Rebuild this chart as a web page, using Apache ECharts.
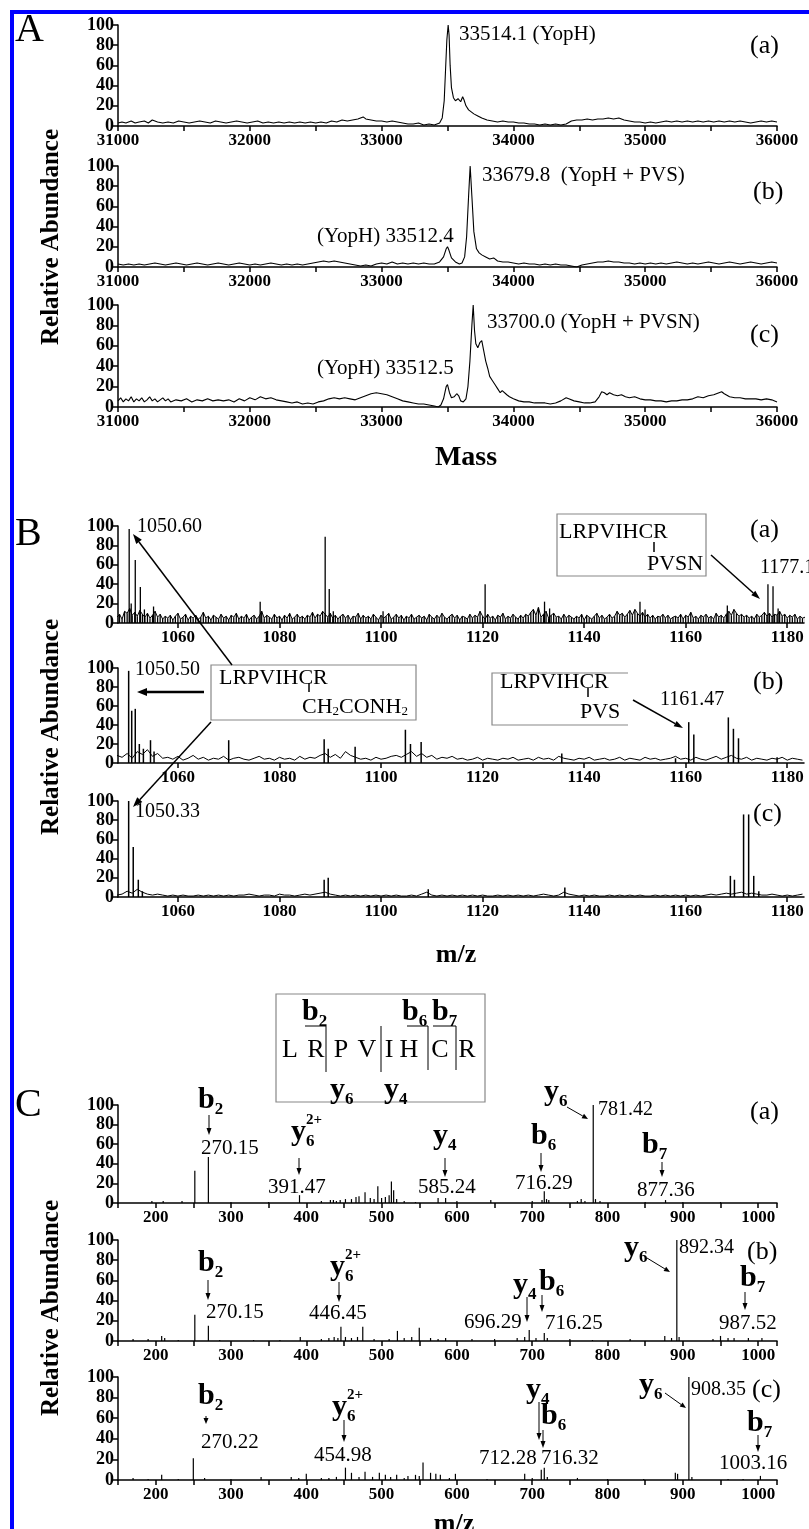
<!DOCTYPE html>
<html><head><meta charset="utf-8">
<script src="https://cdn.jsdelivr.net/npm/echarts@6/dist/echarts.min.js"></script>
<style>html,body{margin:0;padding:0;background:#fff}#c{width:809px;height:1529px}</style>
</head><body><div id="c"></div>
<script>
// ---------------- DATA ----------------
// Panel A: deconvoluted mass spectra [mass, relative abundance]
const specAa = [[31000,3],[31030,4],[31060,3],[31100,5],[31130,3],[31160,4],[31200,5],[31230,3],[31260,6],[31300,4],[31340,3],[31380,4],[31420,3],[31460,5],[31500,4],[31540,3],[31580,4],[31620,5],[31660,4],[31700,3],[31740,5],[31780,4],[31820,3],[31860,4],[31900,5],[31940,4],[31980,3],[32020,4],[32060,5],[32100,3],[32140,4],[32180,3],[32220,4],[32260,3],[32300,4],[32340,3],[32380,4],[32420,3],[32460,4],[32500,3],[32540,4],[32580,3],[32620,5],[32660,4],[32700,6],[32740,5],[32780,6],[32820,7],[32860,9],[32880,7],[32920,6],[32960,5],[33000,5],[33040,4],[33080,5],[33120,4],[33160,3],[33200,2],[33240,2],[33280,3],[33320,1],[33360,2],[33400,1],[33440,3],[33460,8],[33475,25],[33485,55],[33495,85],[33505,100],[33512,90],[33520,60],[33530,38],[33545,28],[33560,25],[33580,27],[33600,24],[33615,29],[33625,26],[33640,20],[33660,16],[33680,14],[33700,12],[33730,10],[33760,8],[33800,6],[33840,5],[33880,4],[33920,5],[33960,4],[34000,4],[34040,3],[34080,3],[34120,2],[34160,2],[34200,1],[34240,2],[34280,1],[34320,2],[34360,1],[34400,2],[34440,5],[34480,6],[34520,6],[34560,7],[34600,6],[34640,7],[34680,7],[34720,8],[34760,7],[34800,8],[34840,6],[34880,5],[34920,4],[34960,4],[35000,3],[35040,4],[35080,3],[35120,4],[35160,5],[35200,4],[35240,5],[35280,4],[35320,5],[35360,4],[35400,5],[35440,4],[35480,5],[35520,4],[35560,5],[35600,4],[35640,5],[35680,4],[35720,5],[35760,4],[35800,3],[35840,4],[35880,5],[35920,4],[35960,5],[36000,4]];
const specAb = [[31000,3],[31040,2],[31080,3],[31120,2],[31160,3],[31200,2],[31240,3],[31280,4],[31320,3],[31360,2],[31400,3],[31440,4],[31480,3],[31520,2],[31560,3],[31600,4],[31640,3],[31680,2],[31720,3],[31760,4],[31800,3],[31840,2],[31880,3],[31920,4],[31960,3],[32000,2],[32040,3],[32080,2],[32120,3],[32160,4],[32200,3],[32240,2],[32280,3],[32320,2],[32360,3],[32400,2],[32440,3],[32480,4],[32520,5],[32560,6],[32600,5],[32640,6],[32680,5],[32720,4],[32760,3],[32800,2],[32840,1],[32880,2],[32920,1],[32960,3],[33000,4],[33040,3],[33080,5],[33120,3],[33160,4],[33200,3],[33240,4],[33280,3],[33320,4],[33360,3],[33400,3],[33440,5],[33470,10],[33490,18],[33500,20],[33510,17],[33530,9],[33560,5],[33590,3],[33610,4],[33630,10],[33645,30],[33660,70],[33672,100],[33685,70],[33700,35],[33720,18],[33740,14],[33760,12],[33790,10],[33820,8],[33850,9],[33880,6],[33920,5],[33960,5],[34000,4],[34040,3],[34080,4],[34120,3],[34160,3],[34200,2],[34240,3],[34280,2],[34320,3],[34360,2],[34400,2],[34440,1],[34480,0],[34500,1],[34520,2],[34560,3],[34600,4],[34640,5],[34680,5],[34720,6],[34760,5],[34800,5],[34840,4],[34880,4],[34920,3],[34960,4],[35000,3],[35040,4],[35080,3],[35120,4],[35160,3],[35200,4],[35240,5],[35280,4],[35320,3],[35360,4],[35400,3],[35440,4],[35480,5],[35520,4],[35560,3],[35600,4],[35640,5],[35680,4],[35720,3],[35760,4],[35800,5],[35840,4],[35880,3],[35920,4],[35960,5],[36000,4]];
const specAc = [[31000,6],[31020,9],[31040,5],[31060,8],[31080,6],[31100,10],[31120,5],[31140,8],[31160,6],[31180,9],[31200,5],[31220,7],[31240,10],[31260,6],[31280,8],[31300,5],[31320,7],[31340,9],[31360,6],[31380,8],[31400,5],[31440,7],[31480,6],[31520,8],[31560,5],[31600,7],[31640,6],[31680,8],[31720,6],[31760,7],[31800,6],[31840,7],[31880,5],[31920,8],[31960,6],[32000,9],[32040,7],[32080,10],[32120,8],[32160,9],[32200,7],[32240,6],[32280,5],[32320,4],[32360,5],[32400,3],[32440,4],[32480,3],[32520,5],[32560,6],[32600,8],[32640,9],[32680,8],[32720,9],[32760,8],[32800,7],[32840,9],[32880,11],[32920,13],[32960,14],[33000,13],[33040,12],[33080,10],[33120,8],[33160,6],[33200,5],[33240,4],[33280,3],[33320,3],[33360,2],[33400,1],[33430,0],[33450,2],[33470,8],[33490,20],[33500,22],[33515,14],[33530,9],[33550,10],[33570,13],[33585,11],[33600,6],[33620,5],[33640,8],[33655,20],[33670,45],[33685,80],[33695,100],[33705,75],[33715,62],[33730,58],[33745,63],[33760,65],[33775,55],[33790,45],[33805,38],[33820,30],[33840,26],[33860,22],[33880,18],[33900,14],[33915,16],[33930,15],[33950,12],[33970,10],[34000,8],[34040,6],[34080,5],[34120,5],[34160,4],[34200,4],[34240,4],[34280,3],[34320,4],[34360,6],[34400,9],[34420,8],[34460,6],[34500,5],[34540,4],[34580,4],[34620,5],[34650,10],[34670,15],[34690,14],[34710,12],[34730,14],[34760,12],[34790,11],[34820,12],[34850,10],[34880,9],[34920,10],[34960,8],[35000,7],[35040,7],[35080,6],[35120,6],[35160,5],[35200,6],[35240,6],[35280,7],[35320,7],[35360,8],[35400,10],[35440,9],[35480,11],[35520,12],[35560,14],[35580,15],[35600,13],[35640,10],[35680,9],[35720,9],[35760,8],[35800,8],[35840,8],[35880,7],[35920,8],[35960,7],[36000,5]];

// Panel B: noise floor sampled from m/z 1048, plus peak sticks [m/z, rel]
const noiseBaStart = 1048, noiseBaStep = 0.5;
const noiseBa = [6,9,4,12,10,15,8,11,7,13,9,6,10,5,8,12,6,9,4,7,
 5,8,3,7,10,4,6,9,3,7,5,8,4,6,11,5,7,3,8,6,
 4,9,5,7,3,8,6,10,4,7,5,9,3,6,8,4,7,12,5,8,
 6,4,9,5,7,3,8,5,10,4,6,9,5,7,4,8,6,11,5,9,
 7,12,9,6,10,5,8,4,7,9,5,8,3,7,6,10,4,8,5,7,
 4,9,6,3,8,5,7,10,4,6,9,5,8,3,7,5,9,4,6,8,
 5,7,3,9,6,4,8,5,10,6,4,7,9,5,8,3,7,6,4,9,
 5,8,6,12,7,4,9,5,7,3,8,6,10,4,7,5,9,6,4,8,
 5,9,7,11,14,8,16,6,9,12,5,8,10,6,7,4,9,5,8,6,
 4,7,5,9,3,8,6,4,7,10,5,8,4,6,9,5,7,12,8,10,
 6,9,13,8,14,10,7,11,6,9,5,8,4,7,6,9,5,8,4,6,
 7,5,9,4,8,6,11,5,7,4,8,6,9,5,7,4,10,6,8,5,
 9,12,8,14,10,7,9,6,8,5,7,4,9,6,8,11,7,10,6,9,
 8,12,7,9,5,8,6,9,4,7,5,6];
const peaksBa = [[1050.4,97],[1050.8,20],[1051.6,65],[1052.6,37],[1053.4,14],[1055.2,17],[1076.2,22],[1089.0,89],[1089.8,35],[1090.6,12],[1100.4,12],[1120.5,40],[1132.2,22],[1133.2,15],[1151.0,22],[1152.0,14],[1168.2,18],[1176.2,40],[1177.2,38],[1178.2,15]];
const noiseBbStart = 1048, noiseBbStep = 1;
const noiseBb = [8,6,10,5,12,9,14,7,10,5, 6,4,7,3,5,8,4,6,3,5, 4,7,3,5,6,4,3,5,7,4, 5,3,6,4,5,3,7,4,6,5, 8,10,6,9,5,12,8,6,4,5, 3,6,4,5,7,8,6,9,12,7, 10,6,8,4,6,5,7,4,5,3, 4,6,3,5,4,3,5,4,6,3, 4,5,3,6,4,5,3,7,5,4, 3,5,4,6,3,4,5,3,4,6, 3,5,4,3,6,4,5,3,4,5, 7,4,5,3,6,4,3,5,7,4, 6,8,5,4,6,3,5,4,3,5, 4,6,3,5,4,3];
const peaksBb = [[1050.3,97],[1050.9,55],[1051.6,57],[1052.4,20],[1053.2,15],[1054.6,24],[1055.3,12],[1070.0,24],[1088.8,25],[1089.6,15],[1094.9,17],[1104.8,35],[1105.8,20],[1107.9,22],[1135.6,10],[1158.0,5],[1160.6,43],[1161.6,30],[1168.4,48],[1169.4,36],[1170.4,26],[1178.0,6]];
const noiseBcStart = 1048, noiseBcStep = 1;
const noiseBc = [2,3,6,4,8,5,3,2,3,2, 1,2,1,2,1,1,2,1,2,1, 2,1,2,1,2,2,3,2,1,2, 2,1,3,2,2,1,2,3,2,3, 4,5,3,2,1,2,1,2,1,2, 1,2,1,2,1,2,1,1,2,1, 3,5,2,1,2,1,2,1,2,1, 2,1,2,1,1,2,1,2,1,2, 1,2,1,2,3,2,1,2,5,3, 2,1,2,1,2,1,1,2,1,2, 1,2,1,2,1,1,2,1,2,1, 2,1,2,1,2,1,2,3,2,3, 4,3,4,5,3,4,3,2,2,3, 2,1,2,1,2,3];
const peaksBc = [[1050.3,100],[1051.2,52],[1052.2,18],[1053.0,6],[1088.8,18],[1089.6,20],[1109.3,8],[1136.2,10],[1168.8,22],[1169.6,18],[1171.4,86],[1172.4,86],[1173.4,22],[1174.4,6]];
const bTickValues = [1060,1080,1100,1120,1140,1160,1180];

// Panel C: MS/MS stick spectra [m/z, rel]
const sticksCa = [[195,2],[210,2],[235,2],[252,33],[270,47],[300,1],[350,1],[391,8],[420,2],[432,3],[436,3],[440,2],[445,3],[452,4],[460,4],[466,6],[470,7],[478,11],[485,5],[490,4],[495,17],[500,5],[505,6],[510,8],[513,22],[516,13],[520,4],[530,2],[545,1],[575,5],[585,5],[600,2],[645,3],[700,2],[713,3],[716,12],[719,4],[722,3],[760,2],[765,4],[770,2],[781,100],[784,4],[790,2],[850,1],[877,3],[900,1],[950,1]];
const sticksCb = [[170,2],[190,2],[208,5],[212,3],[230,1],[252,26],[270,15],[285,1],[330,1],[365,1],[392,4],[420,2],[430,3],[437,4],[442,3],[446,14],[452,4],[460,3],[468,4],[475,14],[490,2],[510,2],[521,10],[530,3],[540,4],[550,13],[565,3],[575,2],[585,3],[620,2],[650,2],[680,3],[690,4],[696,11],[705,3],[716,8],[720,3],[750,2],[780,1],[830,2],[876,5],[885,3],[892,100],[895,4],[940,2],[950,5],[960,3],[968,3],[987,3],[1005,3]];
const sticksCc = [[170,2],[190,1],[208,5],[230,1],[250,21],[265,2],[300,1],[340,3],[380,3],[390,2],[400,6],[420,2],[430,2],[440,3],[452,12],[460,7],[470,3],[478,8],[488,3],[497,7],[505,5],[512,3],[520,5],[530,2],[535,4],[545,5],[550,4],[555,17],[565,7],[572,6],[578,5],[590,2],[598,6],[640,1],[690,6],[700,2],[712,10],[716,12],[720,3],[760,2],[800,1],[848,1],[890,7],[893,6],[908,100],[912,3],[960,1],[980,1],[1003,4]];

// ---------------- LAYOUT / STYLE ----------------
const SERIF = "'Liberation Serif','Times New Roman',serif";
const grids = [
  {left:118, top:25,   width:659, height:101},
  {left:118, top:166,  width:659, height:101},
  {left:118, top:305,  width:659, height:102},
  {left:118, top:526,  width:686, height:97},
  {left:118, top:668,  width:686, height:95},
  {left:118, top:801,  width:686, height:96},
  {left:118, top:1105, width:659, height:98},
  {left:118, top:1240, width:659, height:101},
  {left:118, top:1377, width:659, height:103}
];
const labX = {fontFamily:SERIF, fontWeight:'bold', fontSize:17, color:'#000'};
const labY = {fontFamily:SERIF, fontWeight:'bold', fontSize:18, color:'#000', showMinLabel:true, showMaxLabel:true, hideOverlap:false};
const axLine = {show:true, onZero:false, lineStyle:{color:'#000', width:1.5}};
const axTick = {show:true, inside:false, length:5, lineStyle:{color:'#000', width:1.5}};

function xAxisFor(i){
  const base = {type:'value', gridIndex:i, axisLine:axLine, splitLine:{show:false}};
  if (i<3) return Object.assign(base, {min:31000, max:36000, interval:500, axisTick:axTick,
     axisLabel:Object.assign({margin:6, formatter:v=> v%1000===0? String(v):''}, labX)});
  if (i<6) return Object.assign(base, {min:1048.2, max:1183.3,
     axisTick:Object.assign({customValues:bTickValues}, axTick),
     axisLabel:Object.assign({margin:6, customValues:bTickValues, formatter:v=>String(v)}, labX)});
  return Object.assign(base, {min:150, max:1025, interval:50, axisTick:axTick,
     axisLabel:Object.assign({margin:6, formatter:v=> (v%100===0 && v>=200 && v<=1000)? String(v):''}, labX)});
}
function yAxisFor(i){
  return {type:'value', gridIndex:i, min:0, max:100, interval:20, axisLine:axLine, axisTick:axTick,
    splitLine:{show:false}, axisLabel:Object.assign({margin:4}, labY)};
}
function sampled(arr, start, step){ return arr.map((v,k)=>[start+k*step, v]); }

const series = [];
[specAa, specAb, specAc].forEach((d,i)=>series.push({type:'line', xAxisIndex:i, yAxisIndex:i, data:d,
  showSymbol:false, symbol:'none', lineStyle:{color:'#000', width:1.1}, silent:true}));
// B(a): dense noisy sticks
series.push({type:'line', xAxisIndex:3, yAxisIndex:3, data:sampled(noiseBa,noiseBaStart,noiseBaStep), showSymbol:false, symbol:'none',
  lineStyle:{color:'#000', width:1}, silent:true});
series.push({type:'bar', xAxisIndex:3, yAxisIndex:3, data:sampled(noiseBa,noiseBaStart,noiseBaStep).concat(peaksBa), barWidth:1.3,
  itemStyle:{color:'#000'}, silent:true});
[[noiseBb,noiseBbStart,noiseBbStep,peaksBb],[noiseBc,noiseBcStart,noiseBcStep,peaksBc]].forEach((s,k)=>{
  const i=4+k;
  series.push({type:'line', xAxisIndex:i, yAxisIndex:i, data:sampled(s[0],s[1],s[2]), showSymbol:false, symbol:'none',
    lineStyle:{color:'#000', width:1}, silent:true});
  series.push({type:'bar', xAxisIndex:i, yAxisIndex:i, data:s[3], barWidth:1.5, itemStyle:{color:'#000'}, silent:true});
});
[sticksCa, sticksCb, sticksCc].forEach((d,k)=>series.push({type:'bar', xAxisIndex:6+k, yAxisIndex:6+k, data:d,
  barWidth:1.2, itemStyle:{color:'#000'}, silent:true}));

// ---------------- ANNOTATIONS ----------------
const mctx = document.createElement('canvas').getContext('2d');
function tw(text,size,weight){ mctx.font=(weight||'normal')+' '+size+'px '+SERIF; return mctx.measureText(text).width; }
function T(text,x,y,size,o){ o=o||{};
  return {type:'text', x:x, y:y, z:50, rotation:o.rot||0,
    style:{text:text, fontSize:size, fontFamily:SERIF, fontWeight:o.weight||'normal', fill:'#000',
      textAlign:o.align||'left', align:o.align||'left', textVerticalAlign:'middle', verticalAlign:'middle'}};
}
function pieces(x,y,parts){ const out=[]; let cx=x;
  parts.forEach(p=>{ out.push(T(p[0],cx,y+(p[3]||0),p[1],{weight:p[2]})); cx+=tw(p[0],p[1],p[2]); }); return out; }
function ion(x,y,base,sub,sup){
  const out=[T(base,x,y,30,{weight:'bold'})]; const w=tw(base,30,'bold');
  if(sub) out.push(T(sub,x+w,y+10,17,{weight:'bold'}));
  if(sup) out.push(T(sup,x+w,y-12,15,{weight:'bold'}));
  return out;
}
function arrow(x1,y1,x2,y2,lw,hl,hw){
  const dx=x2-x1, dy=y2-y1, L=Math.hypot(dx,dy), ux=dx/L, uy=dy/L;
  const bx=x2-ux*hl, by=y2-uy*hl, nx=-uy, ny=ux;
  return [{type:'line', z:50, shape:{x1:x1,y1:y1,x2:bx,y2:by}, style:{stroke:'#000', lineWidth:lw}},
          {type:'polygon', z:50, shape:{points:[[x2,y2],[bx+nx*hw/2,by+ny*hw/2],[bx-nx*hw/2,by-ny*hw/2]]}, style:{fill:'#000'}}];
}
function L(pts,lw,col){ return {type:'polyline', z:50, shape:{points:pts}, style:{stroke:col||'#000', lineWidth:lw||1, fill:null}}; }
function R(x,y,w,h){ return {type:'rect', z:49, shape:{x:x,y:y,width:w,height:h}, style:{fill:'#fff', stroke:'#888', lineWidth:1.2}}; }

const AN = 21;   // annotation font size
const PL = 26;   // (a)/(b)/(c) font size
const G = [];
// frame
G.push({type:'rect', z:60, shape:{x:12,y:12,width:900,height:1700}, style:{fill:null, stroke:'#0000ff', lineWidth:4}});
// Panel A
G.push(T('A',15,30,40));
G.push(T('33514.1 (YopH)',459,34,AN));
G.push(T('(a)',750,46,PL));
G.push(T('33679.8  (YopH + PVS)',482,175,AN));
G.push(T('(b)',753,192,PL));
G.push(T('(YopH) 33512.4',317,236,AN));
G.push(T('33700.0 (YopH + PVSN)',487,322,AN));
G.push(T('(c)',750,335,PL));
G.push(T('(YopH) 33512.5',317,368,AN));
G.push(T('Mass',466,458,28,{weight:'bold',align:'center'}));
G.push(T('Relative Abundance',52,237,25,{weight:'bold',align:'center',rot:Math.PI/2}));
// Panel B
G.push(T('B',15,534,40));
G.push(T('1050.60',137,527,20));
G.push(R(557,514,149,62));
G.push(T('LRPVIHCR',559,532,22));
G.push(L([[654,542],[654,552]],1.5));
G.push(T('PVSN',647,564,22));
G.push(...arrow(711,555,760,599,1.5,9,6));
G.push(T('1177.16',760,568,20));
G.push(T('(a)',750,530,PL));
G.push(...arrow(232,665,133,534,1.5,10,7));
G.push(R(211,665,205,55));
G.push(T('LRPVIHCR',219,678,22));
G.push(L([[309,683],[309,692]],1.5));
G.push(...pieces(302,707,[['CH',22,'normal'],['2',13,'normal',5],['CONH',22,'normal'],['2',13,'normal',5]]));
G.push(...arrow(204,692,137,692,2.5,10,8));
G.push(T('1050.50',135,670,20));
G.push(...arrow(211,722,133,807,1.5,10,7));
G.push({type:'rect', z:49, shape:{x:492,y:673,width:136,height:52}, style:{fill:'#fff', stroke:null}});
G.push(L([[628,673],[492,673],[492,725],[628,725]],1.2,'#888'));
G.push(T('LRPVIHCR',500,682,22));
G.push(L([[588,688],[588,697]],1.5));
G.push(T('PVS',580,712,22));
G.push(...arrow(633,700,683,728,1.5,9,6));
G.push(T('1161.47',660,700,20));
G.push(T('(b)',753,682,PL));
G.push(T('1050.33',135,812,20));
G.push(T('(c)',753,814,PL));
G.push(T('m/z',456,955,26,{weight:'bold',align:'center'}));
G.push(T('Relative Abundance',52,727,25,{weight:'bold',align:'center',rot:Math.PI/2}));
// Panel C: peptide box
G.push(R(276,994,209,108));
G.push(...ion(302,1012,'b','2'));
G.push(...ion(402,1012,'b','6'));
G.push(...ion(432,1012,'b','7'));
G.push(L([[305,1026],[326,1026],[326,1072]],1));
G.push(L([[381,1026],[381,1072]],1));
G.push(L([[407,1026],[428,1026],[428,1070]],1));
G.push(L([[433,1026],[456,1026],[456,1070]],1));
[['L',290],['R',316],['P',341],['V',367],['I',389],['H',409],['C',440],['R',467]].forEach(p=>G.push(T(p[0],p[1],1050,26,{align:'center'})));
G.push(...ion(330,1090,'y','6'));
G.push(...ion(384,1090,'y','4'));
G.push(T('C',15,1105,40));
// C(a)
G.push(...ion(198,1100,'b','2'));
G.push(...arrow(209,1115,209,1135,1,7,5));
G.push(T('270.15',201,1148,AN));
G.push(...ion(291,1132,'y','6','2+'));
G.push(...arrow(299,1158,299,1175,1,7,5));
G.push(T('391.47',268,1187,AN));
G.push(...ion(433,1136,'y','4'));
G.push(...arrow(445,1158,445,1177,1,7,5));
G.push(T('585.24',418,1187,AN));
G.push(...ion(531,1136,'b','6'));
G.push(...arrow(541,1153,541,1172,1,7,5));
G.push(T('716.29',515,1183,AN));
G.push(...ion(544,1092,'y','6'));
G.push(...arrow(567,1107,588,1119,1,6,5));
G.push(T('781.42',598,1110,20));
G.push(...ion(642,1145,'b','7'));
G.push(...arrow(662,1162,662,1177,1,7,5));
G.push(T('877.36',637,1190,AN));
G.push(T('(a)',750,1112,PL));
// C(b)
G.push(...ion(624,1248,'y','6'));
G.push(...arrow(647,1258,670,1272,1,6,5));
G.push(T('892.34',679,1248,20));
G.push(T('(b)',747,1252,PL));
G.push(...ion(198,1263,'b','2'));
G.push(...arrow(208,1280,208,1300,1,7,5));
G.push(T('270.15',206,1312,AN));
G.push(...ion(330,1267,'y','6','2+'));
G.push(...arrow(339,1282,339,1302,1,7,5));
G.push(T('446.45',309,1313,AN));
G.push(...ion(513,1285,'y','4'));
G.push(...arrow(527,1297,527,1322,1,7,5));
G.push(...ion(539,1282,'b','6'));
G.push(...arrow(542,1295,542,1312,1,7,5));
G.push(T('696.29',464,1322,AN));
G.push(T('716.25',545,1323,AN));
G.push(...ion(740,1278,'b','7'));
G.push(...arrow(745,1292,745,1310,1,7,5));
G.push(T('987.52',719,1323,AN));
// C(c)
G.push(...ion(198,1396,'b','2'));
G.push(...arrow(206,1416,206,1424,1,6,5));
G.push(T('270.22',201,1442,AN));
G.push(...ion(332,1407,'y','6','2+'));
G.push(...arrow(344,1420,344,1442,1,7,5));
G.push(T('454.98',314,1455,AN));
G.push(...ion(526,1390,'y','4'));
G.push(...arrow(539,1402,539,1440,1,7,5));
G.push(...ion(541,1416,'b','6'));
G.push(...arrow(543,1430,543,1448,1,7,5));
G.push(T('712.28',479,1458,AN));
G.push(T('716.32',541,1458,AN));
G.push(...ion(639,1385,'y','6'));
G.push(...arrow(665,1393,686,1408,1,6,5));
G.push(T('908.35',691,1390,20));
G.push(T('(c)',752,1390,PL));
G.push(...ion(747,1423,'b','7'));
G.push(...arrow(758,1435,758,1452,1,7,5));
G.push(T('1003.16',719,1463,AN));
G.push(T('m/z',454,1524,26,{weight:'bold',align:'center'}));
G.push(T('Relative Abundance',52,1308,25,{weight:'bold',align:'center',rot:Math.PI/2}));

const chart = echarts.init(document.getElementById('c'), null, {renderer:'canvas', width:809, height:1529});
chart.setOption({
  animation:false,
  backgroundColor:'#fff',
  grid: grids,
  xAxis: grids.map((g,i)=>xAxisFor(i)),
  yAxis: grids.map((g,i)=>yAxisFor(i)),
  series: series,
  graphic: {elements: G}
});
</script></body></html>
